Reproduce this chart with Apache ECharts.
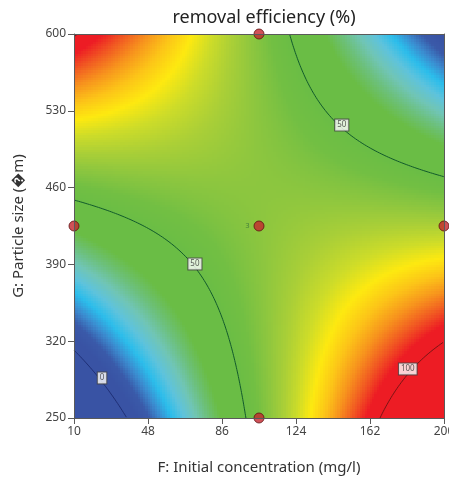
<!DOCTYPE html>
<html><head><meta charset="utf-8">
<script src="https://cdn.jsdelivr.net/npm/echarts@6/dist/echarts.min.js"></script>
<style>html,body{margin:0;padding:0;background:#fff}#c{width:449px;height:481px}</style>
</head><body><div id="c"></div>
<script>
// ---- data ----
const xTicks = [10, 48, 86, 124, 162, 200];
const yTicks = [250, 320, 390, 460, 530, 600];
// design points (F: initial concentration, G: particle size)
const designF = [105, 10, 200, 105, 105];
const designG = [600, 425, 425, 425, 250];
const designLabel = ['', '', '', '3', ''];
// points traced on the contour lines of the picture
const traceF = [10, 36.5, 24.4, 10, 98.2, 72.1, 120.2, 200, 147.5, 167.5, 200, 181.4];
const traceG = [310.4, 250, 286.5, 448, 250, 390.4, 600, 470, 517, 250, 316.5, 294.7];
const traceLevel = [0, 0, 0, 50, 50, 50, 50, 50, 50, 100, 100, 100];
const contourLevels = [0, 50, 100];
// contour label boxes
const labelF = [24.4, 72.1, 147.5, 181.4];
const labelG = [286.5, 390.4, 517, 294.7];
const labelText = ['0', '50', '50', '100'];

// ---- styles ----
const F0 = xTicks[0], F1 = xTicks[xTicks.length - 1];
const G0 = yTicks[0], G1 = yTicks[yTicks.length - 1];
const FC = (F0 + F1) / 2, FH = (F1 - F0) / 2, GC = (G0 + G1) / 2, GH = (G1 - G0) / 2;
const FONT = 'Noto Sans';
const colorStops = ['#3953a4', '#3953a4', '#3a5aa9', '#3b8bcf', '#2bbdeb', '#5ec3dc', '#70c5b5', '#6cc07a',
  '#6abd45', '#6abd45', '#6abd45', '#72bf43', '#8cc63f', '#aacf37', '#cddc29', '#fde910',
  '#fcc418', '#f7941d', '#f15a22', '#ed1c24', '#ed1c24'];
const levelColor = { 0: '#1f2f75', 50: '#125a2c', 100: '#7a1515' };

// ---- quadratic response surface fitted to the traced contour points ----
function basis(x, y) { return [1, x, y, x * y, x * x, y * y]; }
function fit() {
  const n = 6, A = [], B = [];
  for (let i = 0; i < n; i++) { A.push(new Array(n).fill(0)); B.push(0); }
  for (let k = 0; k < traceF.length; k++) {
    const b = basis((traceF[k] - FC) / FH, (traceG[k] - GC) / GH);
    for (let i = 0; i < n; i++) {
      B[i] += b[i] * traceLevel[k];
      for (let j = 0; j < n; j++) A[i][j] += b[i] * b[j];
    }
  }
  for (let i = 0; i < n; i++) {
    let p = i;
    for (let r = i + 1; r < n; r++) if (Math.abs(A[r][i]) > Math.abs(A[p][i])) p = r;
    [A[i], A[p]] = [A[p], A[i]]; [B[i], B[p]] = [B[p], B[i]];
    for (let r = 0; r < n; r++) {
      if (r === i) continue;
      const m = A[r][i] / A[i][i];
      for (let j = i; j < n; j++) A[r][j] -= m * A[i][j];
      B[r] -= m * B[i];
    }
  }
  return B.map((v, i) => v / A[i][i]);
}
const coef = fit();
const [ca, cb, cc, cd, ce, cf] = coef;
function R(x, y) { return ca + cb * x + cc * y + cd * x * y + ce * x * x + cf * y * y; }

// surface cells
const NX = 150, NY = 160;
const cellF = (F1 - F0) / NX, cellG = (G1 - G0) / NY;
const cells = [];
for (let i = 0; i < NX; i++) {
  for (let j = 0; j < NY; j++) {
    const F = F0 + (i + 0.5) * cellF, G = G0 + (j + 0.5) * cellG;
    cells.push([F - F0, G - G0, R((F - FC) / FH, (G - GC) / GH)]);
  }
}

// contour lines
function quadRoots(A2, B1, C0) {
  if (Math.abs(A2) < 1e-9) return Math.abs(B1) < 1e-12 ? [] : [-C0 / B1];
  const D = B1 * B1 - 4 * A2 * C0;
  if (D < 0) return [];
  const s = Math.sqrt(D);
  return [(-B1 - s) / (2 * A2), (-B1 + s) / (2 * A2)];
}
const contourSeries = [];
contourLevels.forEach(L => {
  const pts = [];
  const N = 1500;
  for (let k = 0; k <= N; k++) {
    const t = -1 + 2 * k / N;
    quadRoots(cf, cc + cd * t, ca + cb * t + ce * t * t - L).forEach(y => { if (y >= -1 && y <= 1) pts.push([t, y]); });
    quadRoots(ce, cb + cd * t, ca + cc * t + cf * t * t - L).forEach(x => { if (x >= -1 && x <= 1) pts.push([x, t]); });
  }
  pts.sort((p, q) => p[0] - q[0]);
  let branch = [];
  const flush = () => {
    if (branch.length > 2) {
      contourSeries.push({
        type: 'line', xAxisIndex: 0, yAxisIndex: 0, z: 5, silent: true, animation: false,
        symbol: 'none', smooth: false,
        lineStyle: { color: levelColor[L], width: 1 },
        data: branch.map(p => [p[0] * FH + FC - F0, p[1] * GH + GC - G0])
      });
    }
    branch = [];
  };
  for (let k = 0; k < pts.length; k++) {
    if (branch.length) {
      const p = branch[branch.length - 1], q = pts[k];
      if (Math.hypot(p[0] - q[0], p[1] - q[1]) > 0.08) flush();
    }
    branch.push(pts[k]);
  }
  flush();
});

const chart = echarts.init(document.getElementById('c'), null, { renderer: 'canvas' });
const axisLineStyle = { color: '#5a5a5a', width: 1 };
chart.setOption({
  animation: false,
  textStyle: { fontFamily: FONT },
  title: {
    text: 'removal efficiency (%)', left: 259, top: 4, textAlign: 'center',
    textStyle: { fontFamily: FONT, fontSize: 18, fontWeight: 'normal', color: '#222' }
  },
  grid: { left: 74, right: 5, top: 34, bottom: 63, containLabel: false, outerBoundsMode: 'none' },
  visualMap: {
    type: 'continuous', show: false, min: 0, max: 100, dimension: 2, seriesIndex: 0,
    inRange: { color: colorStops }
  },
  xAxis: [{
    type: 'value', min: 0, max: F1 - F0, interval: xTicks[1] - xTicks[0], position: 'bottom', z: 10,
    axisLine: { show: true, lineStyle: axisLineStyle },
    axisTick: { show: true, inside: false, length: 6, lineStyle: axisLineStyle },
    axisLabel: { formatter: v => String(v + F0), color: '#444', fontSize: 12, margin: 8, fontFamily: FONT },
    splitLine: { show: false },
    name: 'F: Initial concentration (mg/l)', nameLocation: 'middle', nameGap: 42,
    nameTextStyle: { fontSize: 15, color: '#333', fontFamily: FONT }
  }, {
    type: 'value', min: 0, max: F1 - F0, position: 'top', z: 10,
    axisLine: { show: true, onZero: false, lineStyle: axisLineStyle },
    axisTick: { show: false }, axisLabel: { show: false }, splitLine: { show: false }
  }],
  yAxis: [{
    type: 'value', min: 0, max: G1 - G0, interval: yTicks[1] - yTicks[0], position: 'left', z: 10,
    axisLine: { show: true, onZero: false, lineStyle: axisLineStyle },
    axisTick: { show: true, inside: false, length: 6, lineStyle: axisLineStyle },
    axisLabel: { formatter: v => String(v + G0), color: '#444', fontSize: 12, margin: 8, fontFamily: FONT },
    splitLine: { show: false },
    name: 'G: Particle size (\uFFFDm)', nameLocation: 'middle', nameGap: 48, nameRotate: 90,
    nameTextStyle: { fontSize: 15, color: '#333', fontFamily: FONT }
  }, {
    type: 'value', min: 0, max: G1 - G0, position: 'right', z: 10,
    axisLine: { show: true, onZero: false, lineStyle: axisLineStyle },
    axisTick: { show: false }, axisLabel: { show: false }, splitLine: { show: false }
  }],
  series: [{
    type: 'custom', xAxisIndex: 0, yAxisIndex: 0, z: 1, silent: true, animation: false,
    data: cells,
    renderItem: function (params, api) {
      const p0 = api.coord([api.value(0) - cellF / 2, api.value(1) + cellG / 2]);
      const p1 = api.coord([api.value(0) + cellF / 2, api.value(1) - cellG / 2]);
      const x = Math.floor(p0[0]), y = Math.floor(p0[1]);
      return {
        type: 'rect',
        shape: { x: x, y: y, width: Math.ceil(p1[0]) - x, height: Math.ceil(p1[1]) - y },
        style: { fill: api.visual('color') }
      };
    }
  }].concat(contourSeries).concat([{
    type: 'scatter', xAxisIndex: 0, yAxisIndex: 0, z: 8, silent: true, animation: false,
    symbolSize: 1, itemStyle: { color: 'rgba(0,0,0,0)' },
    data: labelF.map((f, i) => ({ value: [f - F0, labelG[i] - G0], name: labelText[i] })),
    label: {
      show: true, position: 'inside', formatter: p => p.name, fontSize: 8, color: '#333',
      backgroundColor: '#fff', borderColor: '#444', borderWidth: 1, padding: [2, 2, 1, 2], fontFamily: FONT
    }
  }, {
    type: 'scatter', xAxisIndex: 0, yAxisIndex: 0, z: 9, silent: true, animation: false, clip: false,
    symbol: 'circle', symbolSize: 10,
    itemStyle: { color: '#c4262e', borderColor: '#5c1212', borderWidth: 1 },
    data: designF.map((f, i) => ({ value: [f - F0, designG[i] - G0], name: designLabel[i] })),
    label: { show: true, position: 'left', distance: 4, formatter: p => p.name, fontSize: 7, color: '#2f6a3a', fontFamily: FONT }
  }])
});
</script>
</body></html>
